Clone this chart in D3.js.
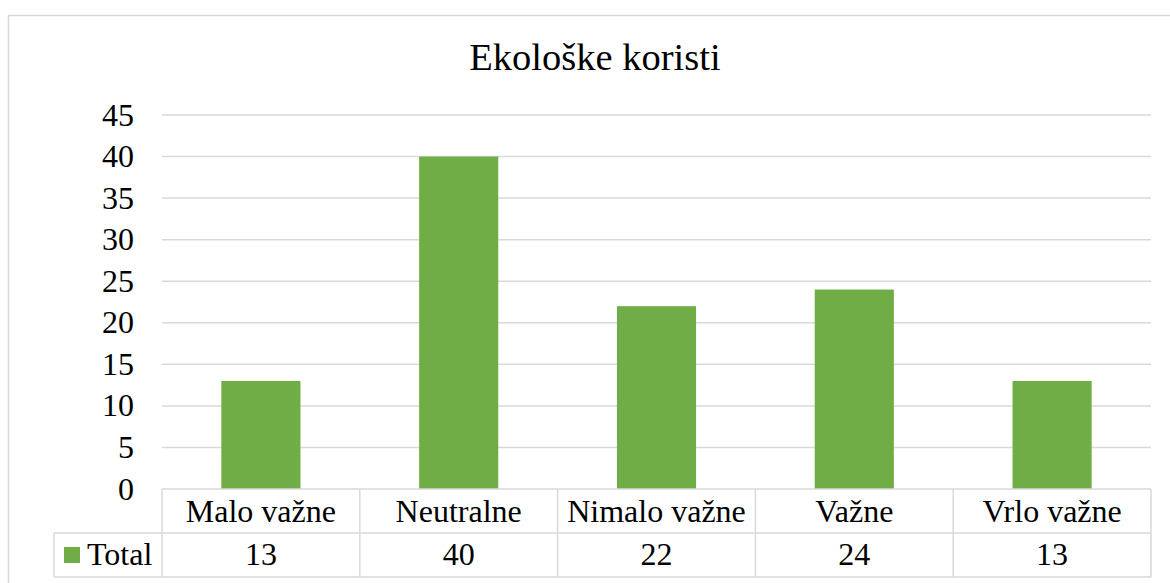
<!DOCTYPE html>
<html>
<head>
<meta charset="utf-8">
<script src="https://cdn.jsdelivr.net/npm/d3@7"></script>
<style>
  body { margin: 0; background: #fff; }
  svg text { font-family: "Liberation Serif", serif; fill: #000; }
</style>
</head>
<body>
<svg id="chart" width="1170" height="583"></svg>
<script>
(function(){
    // data
    let categories = ["Malo važne", "Neutralne", "Nimalo važne", "Važne", "Vrlo važne"];
    let totals = [13, 40, 22, 24, 13];
    let yTicks = [0, 5, 10, 15, 20, 25, 30, 35, 40, 45];
    let seriesName = "Total";
    let title = "Ekološke koristi";

    let grid = "#d9d9d9", green = "#70ad47";
    let left = 162, right = 1151, top = 115, base = 489;
    let rowH = 44;

    let svg = d3.select("#chart");

    // outer chart frame
    svg.append("rect")
        .attr("x", 8.5).attr("y", 15.5)
        .attr("width", 1200).attr("height", 600)
        .attr("fill", "#fff")
        .attr("stroke", grid).attr("stroke-width", 1.5);

    let x = d3.scaleBand()
        .domain(categories)
        .range([left, right])
        .paddingInner(0.6)
        .paddingOuter(0.3);

    let y = d3.scaleLinear()
        .domain([0, 45])
        .range([base, top]);

    // gridlines
    svg.append("g")
        .selectAll("line")
        .data(yTicks.filter(d => d > 0))
        .join("line")
        .attr("x1", left).attr("x2", right)
        .attr("y1", d => y(d)).attr("y2", d => y(d))
        .attr("stroke", grid).attr("stroke-width", 1.5);

    // y tick labels
    svg.append("g")
        .selectAll("text")
        .data(yTicks)
        .join("text")
        .attr("x", 134)
        .attr("y", d => y(d) + 10.5)
        .attr("text-anchor", "end")
        .style("font-size", "32px")
        .text(d => d);

    // bars
    svg.append("g")
        .selectAll("rect")
        .data(categories)
        .join("rect")
        .attr("x", d => x(d))
        .attr("width", x.bandwidth())
        .attr("y", (d, i) => y(totals[i]))
        .attr("height", (d, i) => base - y(totals[i]))
        .attr("fill", green);

    // data table
    let step = x.step();
    let colLeft = d => x(d) - step * 0.3;
    let table = svg.append("g")
        .attr("stroke", grid).attr("stroke-width", 1.5).attr("fill", "none");

    table.append("line").attr("x1", left).attr("x2", right).attr("y1", base).attr("y2", base);
    table.append("line").attr("x1", 54).attr("x2", right).attr("y1", base + rowH).attr("y2", base + rowH);
    table.append("line").attr("x1", 54).attr("x2", right).attr("y1", base + 2 * rowH).attr("y2", base + 2 * rowH);
    table.append("line").attr("x1", 54).attr("x2", 54).attr("y1", base + rowH).attr("y2", base + 2 * rowH);
    table.selectAll("line.col")
        .data(categories)
        .join("line")
        .attr("class", "col")
        .attr("x1", colLeft).attr("x2", colLeft)
        .attr("y1", base).attr("y2", base + 2 * rowH);
    table.append("line").attr("x1", right).attr("x2", right).attr("y1", base).attr("y2", base + 2 * rowH);

    // category labels
    svg.append("g")
        .selectAll("text")
        .data(categories)
        .join("text")
        .attr("x", d => x(d) + x.bandwidth() / 2)
        .attr("y", base + 33)
        .attr("text-anchor", "middle")
        .style("font-size", "32px")
        .text(d => d);

    // values row
    svg.append("g")
        .selectAll("text")
        .data(categories)
        .join("text")
        .attr("x", d => x(d) + x.bandwidth() / 2)
        .attr("y", base + rowH + 32)
        .attr("text-anchor", "middle")
        .style("font-size", "32px")
        .text((d, i) => totals[i]);

    // legend key
    svg.append("rect")
        .attr("x", 64).attr("y", 547)
        .attr("width", 16).attr("height", 16)
        .attr("fill", green);
    svg.append("text")
        .attr("x", 87)
        .attr("y", base + rowH + 32)
        .style("font-size", "32px")
        .text(seriesName);

    // title
    svg.append("text")
        .attr("x", 595)
        .attr("y", 70)
        .attr("text-anchor", "middle")
        .style("font-size", "38.5px")
        .text(title);
})();
</script>
</body>
</html>
